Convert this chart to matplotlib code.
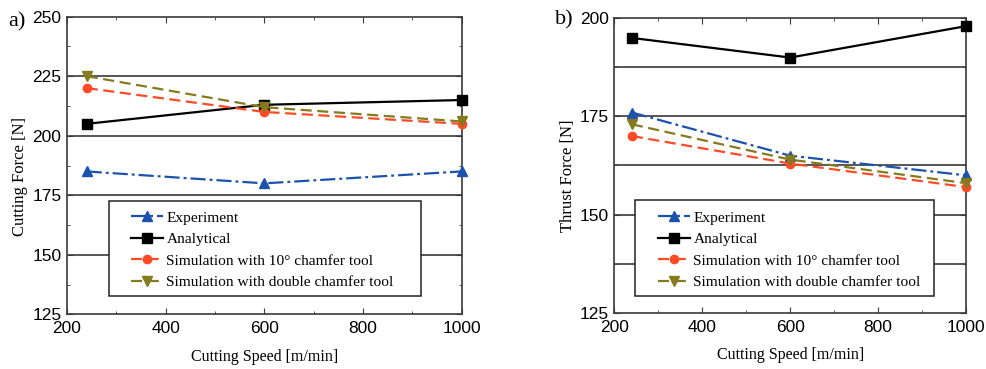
import matplotlib
matplotlib.use("Agg")
import matplotlib.pyplot as plt
from matplotlib.ticker import MultipleLocator
from matplotlib.patches import Rectangle

speed = [240, 600, 1000]
cut_experiment = [185, 180, 185]
cut_analytical = [205, 213, 215]
cut_sim10 = [220, 210, 205]
cut_double = [225, 212, 206]

thr_experiment = [176, 165, 160]
thr_analytical = [195, 190, 198]
thr_sim10 = [170, 163, 157]
thr_double = [173, 164, 158]

labels = ["Experiment", "Analytical", "Simulation with 10° chamfer tool",
          "Simulation with double chamfer tool"]

tickfont = "Liberation Sans"
serif = "Liberation Serif"

C_BLUE = "#1b52ad"
C_BLACK = "#000000"
C_RED = "#ff4a26"
C_OLIVE = "#857a1e"
C_GRID = "#3a3a3a"

W, H = 986, 369
fig = plt.figure(figsize=(W / 100, H / 100), dpi=100)
ax1 = fig.add_axes([67 / W, 1 - 314.3 / H, (461.5 - 67) / W, (314.3 - 16.7) / H])
ax2 = fig.add_axes([614.3 / W, 1 - 312.7 / H, (966 - 614.3) / W, (312.7 - 18.3) / H])


def draw(ax, exp, ana, s10, dbl, ylim, grid_step, box, leg_anchor):
    ax.plot(speed, exp, color=C_BLUE, ls=(0, (6.8, 1.8, 1.3, 1.8)), lw=1.6, marker="^", ms=7, label=labels[0], zorder=3, clip_on=False)
    ax.plot(speed, ana, color=C_BLACK, ls="-", lw=1.6, marker="s", ms=6.5, label=labels[1], zorder=3, clip_on=False)
    ax.plot(speed, s10, color=C_RED, ls=(0, (5, 2.5)), lw=1.6, marker="o", ms=6, label=labels[2], zorder=3, clip_on=False)
    ax.plot(speed, dbl, color=C_OLIVE, ls=(0, (5, 2.5)), lw=1.6, marker="v", ms=7, label=labels[3], zorder=3, clip_on=False)
    ax.set_xlim(200, 1000)
    ax.set_ylim(*ylim)
    ax.xaxis.set_major_locator(MultipleLocator(200))
    ax.xaxis.set_minor_locator(MultipleLocator(100))
    ax.yaxis.set_major_locator(MultipleLocator(25))
    ax.yaxis.set_minor_locator(MultipleLocator(12.5))
    y = ylim[0] + grid_step
    while y < ylim[1] - 1e-6:
        ax.axhline(y, color=C_GRID, lw=1.2, zorder=1)
        y += grid_step
    ax.tick_params(which="both", direction="in", top=True, right=True, color=C_GRID)
    ax.tick_params(which="major", length=4, labelsize=12.5)
    ax.tick_params(axis="x", which="major", pad=5)
    ax.tick_params(axis="y", which="major", pad=4)
    ax.tick_params(which="minor", length=2)
    for lab in ax.get_xticklabels() + ax.get_yticklabels():
        lab.set_fontfamily(tickfont)
    for s in ax.spines.values():
        s.set_linewidth(1.2)
        s.set_color(C_GRID)
    ax.set_xlabel("Cutting Speed [m/min]", fontfamily=serif, fontsize=11.5, labelpad=9)
    x0, y0, x1, y1 = box
    rect = Rectangle((x0 / W, 1 - y1 / H), (x1 - x0) / W, (y1 - y0) / H,
                     transform=fig.transFigure, facecolor="white", edgecolor="#222222",
                     lw=1.1, zorder=4)
    ax.add_patch(rect)
    leg = ax.legend(loc="upper left", bbox_to_anchor=(leg_anchor[0] / W, 1 - leg_anchor[1] / H),
                    bbox_transform=fig.transFigure, frameon=False,
                    prop={"family": serif, "size": 11.1}, handlelength=2.1,
                    handletextpad=0.2, labelspacing=0.5, borderpad=0, borderaxespad=0)
    leg.set_zorder(5)


draw(ax1, cut_experiment, cut_analytical, cut_sim10, cut_double, (125, 250), 25,
     (109, 201, 421, 296), (131, 211))
ax1.set_ylabel("Cutting Force [N]", fontfamily=serif, fontsize=12)
ax1.yaxis.set_label_coords((28 - 67) / (461.5 - 67), 1 - (176 - 16.7) / (314.3 - 16.7))
fig.text(8 / W, 1 - 22 / H, "a)", fontfamily=serif, fontsize=16, va="center", ha="left")

draw(ax2, thr_experiment, thr_analytical, thr_sim10, thr_double, (125, 200), 12.5,
     (635, 200, 934, 296), (658, 211))
ax2.set_ylabel("Thrust Force [N]", fontfamily=serif, fontsize=12)
ax2.yaxis.set_label_coords((576 - 614.3) / (966 - 614.3), 1 - (175.5 - 18.3) / (312.7 - 18.3))
fig.text(555 / W, 1 - 20 / H, "b)", fontfamily=serif, fontsize=16, va="center", ha="left")

fig.savefig("out.png", dpi=100)
